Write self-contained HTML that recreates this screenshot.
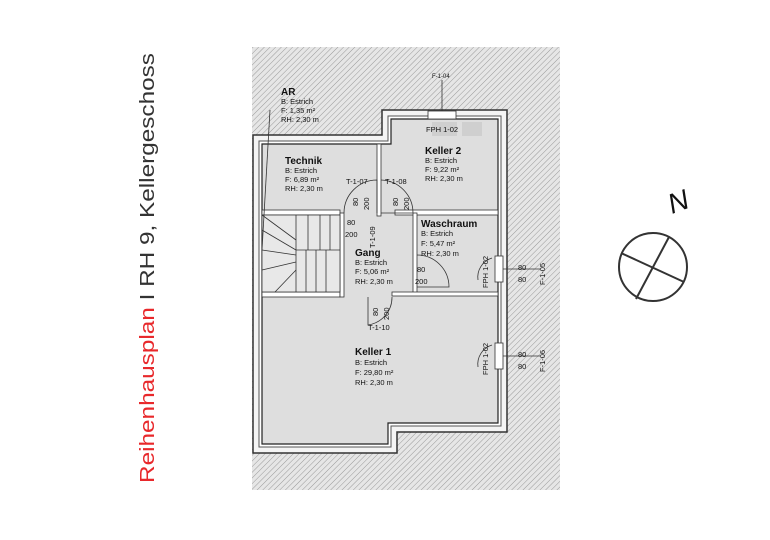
<!DOCTYPE html>
<html><head><meta charset="utf-8"><style>
html,body{margin:0;padding:0;background:#fff}
svg{display:block}
text{font-family:"Liberation Sans",sans-serif}
</style></head><body>
<svg width="770" height="540" viewBox="0 0 770 540" xmlns="http://www.w3.org/2000/svg">
<defs>
<pattern id="h" width="4" height="4" patternUnits="userSpaceOnUse" patternTransform="rotate(45)">
<rect width="4" height="4" fill="#e6e6e6"/><line x1="0" y1="0" x2="0" y2="4" stroke="#999" stroke-width="1"/>
</pattern>
</defs>
<rect x="252" y="47" width="308" height="443" fill="url(#h)"/>
<!-- outer wall -->
<polygon points="253,135 382,135 382,110 507,110 507,432 397,432 397,453 253,453" fill="#f4f4f4" stroke="#333" stroke-width="1.5"/>
<polygon points="259,141 388,141 388,116 501,116 501,426 391,426 391,447 259,447" fill="#fff" stroke="#555" stroke-width="1"/>
<polygon points="262,144 391,144 391,119 498,119 498,423 388,423 388,444 262,444" fill="#dedede" stroke="#222" stroke-width="1.2"/>
<!-- inner walls -->
<rect x="377" y="144" width="4" height="72" fill="#fff" stroke="#333" stroke-width="0.8"/>
<rect x="262" y="210" width="78" height="5" fill="#fff" stroke="#333" stroke-width="0.8"/>
<rect x="395" y="210" width="103" height="5" fill="#fff" stroke="#333" stroke-width="0.8"/>
<rect x="413" y="213" width="4" height="80" fill="#fff" stroke="#333" stroke-width="0.8"/>
<rect x="262" y="292" width="78" height="5" fill="#fff" stroke="#333" stroke-width="0.8"/>
<rect x="392" y="292" width="106" height="4" fill="#fff" stroke="#333" stroke-width="0.8"/>
<rect x="340" y="213" width="4" height="84" fill="#fff" stroke="#333" stroke-width="0.8"/>
<!-- stairs -->
<g stroke="#333" stroke-width="0.8" fill="none">
<rect x="262" y="215" width="78" height="77" fill="#e8e8e8"/>
<line x1="296" y1="250" x2="340" y2="250"/><line x1="296" y1="250" x2="296" y2="292"/>
<line x1="306" y1="250" x2="306" y2="292"/><line x1="316" y1="250" x2="316" y2="292"/><line x1="326" y1="250" x2="326" y2="292"/>
<line x1="296" y1="215" x2="296" y2="250"/><line x1="308" y1="215" x2="308" y2="250"/><line x1="320" y1="215" x2="320" y2="250"/><line x1="330" y1="215" x2="330" y2="250"/>
<line x1="262" y1="230" x2="296" y2="250"/><line x1="262" y1="250" x2="296" y2="255"/><line x1="262" y1="270" x2="296" y2="262"/><line x1="275" y1="292" x2="296" y2="270"/>
<line x1="262" y1="215" x2="296" y2="240"/>
<line x1="270" y1="110" x2="262" y2="250"/>
</g>
<!-- doors -->
<g stroke="#333" stroke-width="0.8" fill="none">
<path d="M344,213 A33,33 0 0 1 377,180 L377,213"/>
<path d="M381,180 A33,33 0 0 1 413,213 L381,213"/>
<path d="M368,297 L368,325 A28,28 0 0 0 392,297"/>
<path d="M417,255 A32,32 0 0 1 449,287 L417,287"/>
<path d="M492,258 A20,20 0 0 0 478,280"/>
<path d="M492,345 A20,20 0 0 0 478,367"/>
<rect x="495" y="256" width="8" height="26" fill="#fff"/>
<rect x="495" y="343" width="8" height="26" fill="#fff"/>
<rect x="428" y="111" width="28" height="8" fill="#fff"/>
<line x1="503" y1="269" x2="540" y2="269"/><line x1="503" y1="356" x2="540" y2="356"/>
<line x1="442" y1="80" x2="442" y2="111"/>
</g>
<rect x="432" y="122" width="25" height="14" fill="#cfcfcf"/><rect x="462" y="122" width="20" height="14" fill="#cfcfcf"/>
<!-- labels -->
<g fill="#111" font-size="7.5">
<text x="281" y="95" font-size="10" font-weight="bold">AR</text>
<text x="281" y="104">B: Estrich</text><text x="281" y="113">F:    1,35 m²</text><text x="281" y="122">RH: 2,30 m</text>
<text x="285" y="164" font-size="10" font-weight="bold">Technik</text>
<text x="285" y="173">B: Estrich</text><text x="285" y="182">F:   6,89 m²</text><text x="285" y="191">RH: 2,30 m</text>
<text x="425" y="154" font-size="10" font-weight="bold">Keller 2</text>
<text x="425" y="163">B: Estrich</text><text x="425" y="172">F:    9,22 m²</text><text x="425" y="181">RH: 2,30 m</text>
<text x="421" y="227" font-size="10" font-weight="bold">Waschraum</text>
<text x="421" y="236">B: Estrich</text><text x="421" y="246">F:          5,47 m²</text><text x="421" y="256">RH:        2,30 m</text>
<text x="355" y="256" font-size="10" font-weight="bold">Gang</text>
<text x="355" y="265">B: Estrich</text><text x="355" y="274">F:   5,06 m²</text><text x="355" y="284">RH: 2,30 m</text>
<text x="355" y="355" font-size="10" font-weight="bold">Keller 1</text>
<text x="355" y="365">B: Estrich</text><text x="355" y="375">F:  29,80 m²</text><text x="355" y="385">RH: 2,30 m</text>
<text x="347" y="225">80</text><text x="345" y="237">200</text>
<text x="417" y="272">80</text><text x="415" y="284">200</text>
<text x="346" y="184">T-1-07</text><text x="385" y="184">T-1-08</text><text x="368" y="330">T-1-10</text>
<text x="432" y="78" font-size="6">F-1-04</text><text x="426" y="132">FPH 1-02</text>
<text x="518" y="270">80</text><text x="518" y="282">80</text>
<text x="518" y="357">80</text><text x="518" y="369">80</text>
<text transform="translate(545,285) rotate(-90)">F-1-05</text>
<text transform="translate(545,372) rotate(-90)">F-1-06</text>
<text transform="translate(488,288) rotate(-90)">FPH 1-02</text>
<text transform="translate(488,375) rotate(-90)">FPH 1-02</text>
<text transform="translate(358,206) rotate(-90)">80</text><text transform="translate(369,210) rotate(-90)">200</text>
<text transform="translate(398,206) rotate(-90)">80</text><text transform="translate(409,210) rotate(-90)">200</text>
<text transform="translate(375,248) rotate(-90)">T-1-09</text>
<text transform="translate(378,316) rotate(-90)">80</text><text transform="translate(389,320) rotate(-90)">200</text>
</g>
<!-- title -->
<text transform="translate(154,483) rotate(-90)" font-size="20" textLength="430" lengthAdjust="spacingAndGlyphs"><tspan fill="#e8282b">Reihenhausplan</tspan><tspan fill="#333"> I RH 9, Kellergeschoss</tspan></text>
<!-- compass -->
<g stroke="#333" stroke-width="2" fill="none">
<circle cx="653" cy="267" r="34"/>
<line x1="669" y1="237" x2="636" y2="299"/>
<line x1="621" y1="253" x2="684" y2="282"/>
</g>
<text transform="translate(672,214) rotate(-20)" font-size="28" font-style="italic" fill="#111">N</text>
</svg>
</body></html>
